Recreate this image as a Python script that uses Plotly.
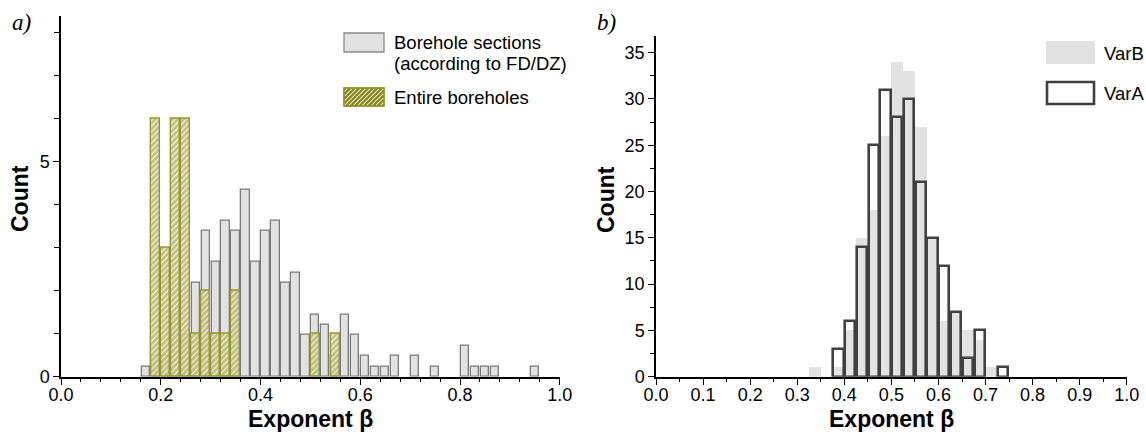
import plotly.graph_objects as go

W, H = 1146, 440

# ---------------- Panel a data ----------------
# bin centres (bin width 0.02) and displayed heights of "Borehole sections"
sections_x = [0.17, 0.19, 0.21, 0.23, 0.25, 0.27, 0.29, 0.31, 0.33, 0.35, 0.37, 0.39,
              0.41, 0.43, 0.45, 0.47, 0.49, 0.51, 0.53, 0.55, 0.57, 0.59, 0.61, 0.63,
              0.65, 0.67, 0.71, 0.75, 0.81, 0.83, 0.85, 0.87, 0.95]
sections_h = [0.24, 0.48, 0.48, 1.45, 0.97, 2.18, 3.39, 2.67, 3.64, 3.39, 4.36, 2.67,
              3.39, 3.64, 2.18, 2.42, 0.97, 1.45, 1.21, 0.48, 1.45, 0.97, 0.48, 0.24,
              0.24, 0.48, 0.48, 0.24, 0.73, 0.24, 0.24, 0.24, 0.24]
# "Entire boreholes"
entire_x = [0.19, 0.21, 0.23, 0.25, 0.27, 0.29, 0.31, 0.33, 0.35, 0.51, 0.55]
entire_n = [6, 3, 6, 6, 1, 2, 1, 1, 2, 1, 1]

# ---------------- Panel b data ----------------
bins_b = [0.3375, 0.3625, 0.3875, 0.4125, 0.4375, 0.4625, 0.4875, 0.5125, 0.5375,
          0.5625, 0.5875, 0.6125, 0.6375, 0.6625, 0.6875, 0.7125, 0.7375]
varB = [1, 0, 1, 5, 15, 18, 26, 34, 33, 27, 15, 6, 7, 5, 4, 1, 0]
varA = [0, 0, 3, 6, 14, 25, 31, 28, 30, 21, 15, 12, 7, 2, 5, 0, 1]

FONT = "Liberation Sans, Arial, Helvetica, sans-serif"
OLIVE = "#86861c"
GREYFILL = "#e2e2e2"
DARK = "#404040"

def px_x(p):
    return p / W

def px_y(p):
    return 1 - p / H

fig = go.Figure()

# panel a
fig.add_trace(go.Bar(
    x=sections_x, y=sections_h, width=0.0165,
    marker=dict(color=GREYFILL, line=dict(color="#7a7a7a", width=1.3)),
    xaxis="x", yaxis="y", showlegend=False))
fig.add_trace(go.Bar(
    x=entire_x, y=entire_n, width=0.0172,
    marker=dict(color="rgba(252,252,236,0.8)",
                line=dict(color="#96962e", width=1.4),
                pattern=dict(shape="/", fgcolor=OLIVE, size=4, solidity=0.72,
                             fillmode="overlay")),
    xaxis="x", yaxis="y", showlegend=False))

# panel b
bx_B = [x for x, v in zip(bins_b, varB) if v > 0]
by_B = [v for v in varB if v > 0]
bx_A = [x for x, v in zip(bins_b, varA) if v > 0]
by_A = [v for v in varA if v > 0]
fig.add_trace(go.Bar(
    x=bx_B, y=by_B, width=0.025,
    marker=dict(color=GREYFILL, line=dict(width=0)),
    xaxis="x2", yaxis="y2", showlegend=False))
fig.add_trace(go.Bar(
    x=bx_A, y=by_A, width=0.0218,
    marker=dict(color="rgba(0,0,0,0)", line=dict(color=DARK, width=2.6)),
    xaxis="x2", yaxis="y2", showlegend=False))

ybot = px_y(376.7)
axis_common = dict(showline=True, linecolor="black", linewidth=1.5, ticks="outside",
                   tickcolor="black", tickwidth=1.3, showgrid=False, zeroline=False,
                   automargin=False,
                   tickfont=dict(family=FONT, size=18, color="black"))

fig.update_layout(
    width=W, height=H, margin=dict(l=0, r=0, t=0, b=0, autoexpand=False),
    paper_bgcolor="white", plot_bgcolor="white",
    barmode="overlay", bargap=0,
    xaxis=dict(domain=[px_x(61), px_x(560)], range=[0, 1.0005], dtick=0.2, tick0=0,
               tickformat=".1f", ticklen=7, ticklabelstandoff=-6,
               minor=dict(dtick=0.04, tick0=0, ticklen=4, ticks="outside",
                          tickcolor="black", tickwidth=1.2),
               anchor="y", **axis_common),
    yaxis=dict(domain=[ybot, px_y(15.7)], range=[0, 8.4], tickvals=[0, 5], ticklen=6,
               minor=dict(dtick=1, tick0=0, ticklen=5, ticks="outside",
                          tickcolor="black", tickwidth=1.2),
               anchor="x", **axis_common),
    xaxis2=dict(domain=[px_x(656), px_x(1127)], range=[0, 1.0005], dtick=0.1, tick0=0,
                tickformat=".1f", ticklen=7, ticklabelstandoff=-6,
                minor=dict(dtick=0.05, tick0=0, ticklen=4, ticks="outside",
                           tickcolor="black", tickwidth=1.2),
                anchor="y2", **axis_common),
    yaxis2=dict(domain=[ybot, px_y(36)], range=[0, 36.8], dtick=5, tick0=0, ticklen=6,
                minor=dict(dtick=2.5, tick0=0, ticklen=4, ticks="outside",
                           tickcolor="black", tickwidth=1.2),
                anchor="x2", **axis_common),
)

ann = []
def text(x, y, s, size=18, bold=False, xanchor="left", angle=0, family=FONT, italic=False):
    t = s
    if bold:
        t = "<b>" + t + "</b>"
    if italic:
        t = "<i>" + t + "</i>"
    ann.append(dict(x=px_x(x), y=px_y(y), xref="paper", yref="paper", text=t,
                    showarrow=False, xanchor=xanchor, yanchor="middle", textangle=angle,
                    font=dict(family=family, size=size, color="black")))

# axis titles
text(310, 419, "Exponent β", size=23, bold=True, xanchor="center")
text(891, 419, "Exponent β", size=23, bold=True, xanchor="center")
text(20, 199, "Count", size=23, bold=True, xanchor="center", angle=-90)
text(606, 199, "Count", size=23, bold=True, xanchor="center", angle=-90)
# panel letters
text(10, 23, "a)", size=23, italic=True, family="Liberation Serif, Times New Roman, serif")
text(595, 23, "b)", size=23, italic=True, family="Liberation Serif, Times New Roman, serif")
# legend a texts
text(392, 42, "Borehole sections", size=18.5)
text(392, 63, "(according to FD/DZ)", size=18.5)
text(392, 98, "Entire boreholes", size=18.5)
# legend b texts
text(1102, 53, "VarB", size=18.5)
text(1102, 93, "VarA", size=18.5)

shapes = []
def rect(x0, y0, x1, y1, fill, line_color=None, lw=0):
    shapes.append(dict(type="rect", xref="paper", yref="paper",
                       x0=px_x(x0), x1=px_x(x1), y0=px_y(y1), y1=px_y(y0),
                       fillcolor=fill, line=dict(color=line_color or fill, width=lw)))

rect(344, 33, 384, 52, GREYFILL, "#8a8a8a", 1.3)
# hatched legend key
hx0, hy0, hx1, hy1 = 344, 88, 384, 106
rect(hx0, hy0, hx1, hy1, "#fbfbe6", "#96962e", 1.3)
c = hx0 + hy0 + 2
while c < hx1 + hy1:
    xs = max(hx0, c - hy1)
    xe = min(hx1, c - hy0)
    if xe > xs:
        shapes.append(dict(type="line", xref="paper", yref="paper",
                           x0=px_x(xs), y0=px_y(c - xs), x1=px_x(xe), y1=px_y(c - xe),
                           line=dict(color=OLIVE, width=2.4)))
    c += 4.5
rect(hx0, hy0, hx1, hy1, "rgba(0,0,0,0)", "#96962e", 1.3)

rect(1046, 41, 1095, 64, GREYFILL)
rect(1047, 82, 1094, 104, "white", DARK, 2.6)

fig.update_layout(annotations=ann, shapes=shapes)
fig.write_html("out.html")
